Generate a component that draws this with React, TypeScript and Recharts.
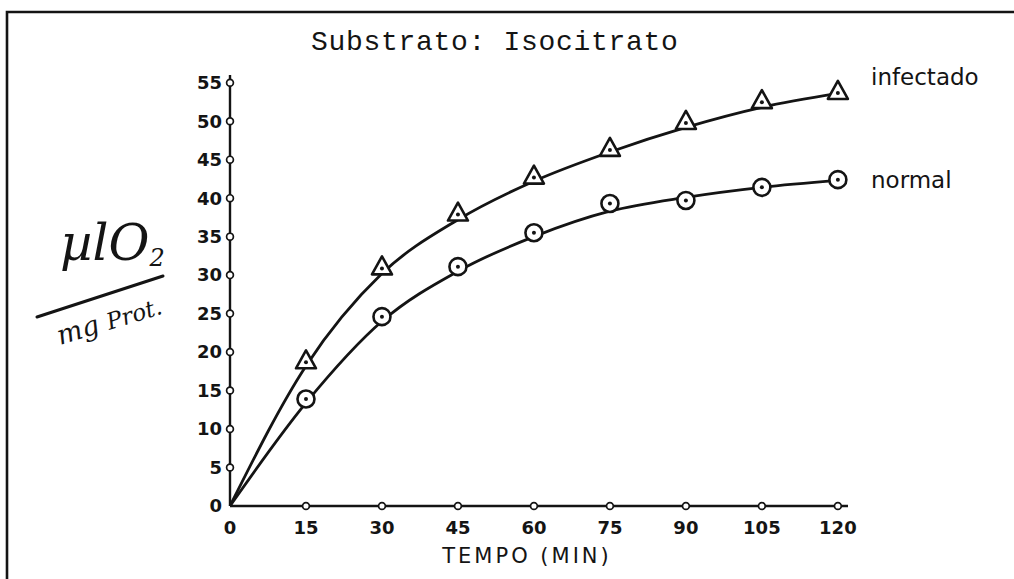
import React from "react";
import {
  ComposedChart,
  Line,
  Scatter,
  XAxis,
  YAxis,
} from "recharts";

// time in minutes
const minutes = [0, 15, 30, 45, 60, 75, 90, 105, 120];

// measured points (µl O2 / mg prot.)
const pointMinutes = [15, 30, 45, 60, 75, 90, 105, 120];
const infectadoPoints = [18.8, 31, 38, 42.8, 46.4, 49.9, 52.6, 53.8];
const normalPoints = [13.9, 24.6, 31.1, 35.5, 39.3, 39.7, 41.4, 42.4];

const infectadoCurve = [0, 18.2, 30.2, 37.2, 42.2, 46, 49.2, 51.8, 53.6];
const normalCurve = [0, 13.4, 24, 30.5, 35, 38.3, 40.1, 41.4, 42.3];

const xTicks = [0, 15, 30, 45, 60, 75, 90, 105, 120];
const yTicks = [0, 5, 10, 15, 20, 25, 30, 35, 40, 45, 50, 55];

const INK = "#141414";
const HAND = "'DejaVu Sans', sans-serif";

const curveRows = minutes.map((t, i) => ({
  t,
  inf: infectadoCurve[i],
  norm: normalCurve[i],
}));
const infRows = pointMinutes.map((t, i) => ({ t, v: infectadoPoints[i] }));
const normRows = pointMinutes.map((t, i) => ({ t, v: normalPoints[i] }));
const xDots = xTicks.slice(1).map((t) => ({ t, v: 0 }));
const yDots = yTicks.slice(1).map((v) => ({ t: 0, v }));

const Triangle = (props: any) => {
  const { cx, cy } = props;
  return (
    <g>
      <polygon
        points={`${cx},${cy - 11} ${cx - 10},${cy + 7} ${cx + 10},${cy + 7}`}
        fill="#fff"
        stroke={INK}
        strokeWidth={2.6}
        strokeLinejoin="round"
      />
      <circle cx={cx} cy={cy + 1} r={2} fill={INK} />
    </g>
  );
};

const Ring = (props: any) => {
  const { cx, cy } = props;
  return (
    <g>
      <circle cx={cx} cy={cy} r={8.5} fill="#fff" stroke={INK} strokeWidth={2.6} />
      <circle cx={cx} cy={cy} r={2} fill={INK} />
    </g>
  );
};

const TickDot = (props: any) => {
  const { cx, cy } = props;
  return <circle cx={cx} cy={cy} r={3.4} fill="#fff" stroke={INK} strokeWidth={1.7} />;
};

export default function App() {
  return (
    <div style={{ position: "absolute", left: 0, top: 0, width: 1014, height: 579, background: "#fff" }}>
      <ComposedChart
        width={1014}
        height={579}
        data={curveRows}
        margin={{ top: 75, right: 166, bottom: 0, left: 170 }}
      >
        <XAxis
          type="number"
          dataKey="t"
          domain={[0, 122]}
          ticks={xTicks}
          height={73}
          tickSize={0}
          tickMargin={15}
          axisLine={{ stroke: INK, strokeWidth: 2.4 }}
          tick={{ fill: INK, fontSize: 18, fontWeight: "bold", fontFamily: HAND }}
        />
        <YAxis
          type="number"
          domain={[0, 56]}
          ticks={yTicks}
          width={60}
          tickSize={0}
          tickMargin={8}
          axisLine={{ stroke: INK, strokeWidth: 2.4 }}
          tick={{ fill: INK, fontSize: 18, fontWeight: "bold", fontFamily: HAND }}
        />
        <Line
          type="monotone"
          dataKey="inf"
          stroke={INK}
          strokeWidth={2.8}
          dot={false}
          isAnimationActive={false}
        />
        <Line
          type="monotone"
          dataKey="norm"
          stroke={INK}
          strokeWidth={2.8}
          dot={false}
          isAnimationActive={false}
        />
        <Scatter data={xDots} dataKey="v" shape={TickDot} isAnimationActive={false} />
        <Scatter data={yDots} dataKey="v" shape={TickDot} isAnimationActive={false} />
        <Scatter data={infRows} dataKey="v" shape={Triangle} isAnimationActive={false} />
        <Scatter data={normRows} dataKey="v" shape={Ring} isAnimationActive={false} />
      </ComposedChart>

      <svg
        width={1014}
        height={579}
        style={{ position: "absolute", left: 0, top: 0, pointerEvents: "none" }}
      >
        {/* frame */}
        <path d="M7 579 L7 12 L1014 12" fill="none" stroke={INK} strokeWidth={2.6} />

        {/* title */}
        <text
          x={311}
          y={50}
          fontFamily="'Liberation Mono', monospace"
          fontSize={28}
          letterSpacing={0.7}
          fill={INK}
        >
          Substrato: Isocitrato
        </text>

        {/* series labels */}
        <text x={871} y={85} fontFamily={HAND} fontSize={23} fill={INK}>
          infectado
        </text>
        <text x={871} y={188} fontFamily={HAND} fontSize={23} fill={INK}>
          normal
        </text>

        {/* y label */}
        <text x={60} y={260} fontFamily="'DejaVu Serif', serif" fontStyle="italic" fontSize={50} fill={INK}>
          µlO
          <tspan fontSize={24} dy={6}>2</tspan>
        </text>
        <line x1={37} y1={317} x2={163} y2={276} stroke={INK} strokeWidth={3} strokeLinecap="round" />
        <text
          x={60}
          y={345}
          transform="rotate(-17 60 345)"
          fontFamily="'DejaVu Serif', serif"
          fontStyle="italic"
          fontSize={27}
          fill={INK}
        >
          mg <tspan fontSize={23}>Prot.</tspan>
        </text>

        {/* x label */}
        <text
          x={527}
          y={563}
          textAnchor="middle"
          fontFamily={HAND}
          fontSize={21}
          letterSpacing={3}
          fill={INK}
        >
          TEMPO (MIN)
        </text>
      </svg>
    </div>
  );
}
